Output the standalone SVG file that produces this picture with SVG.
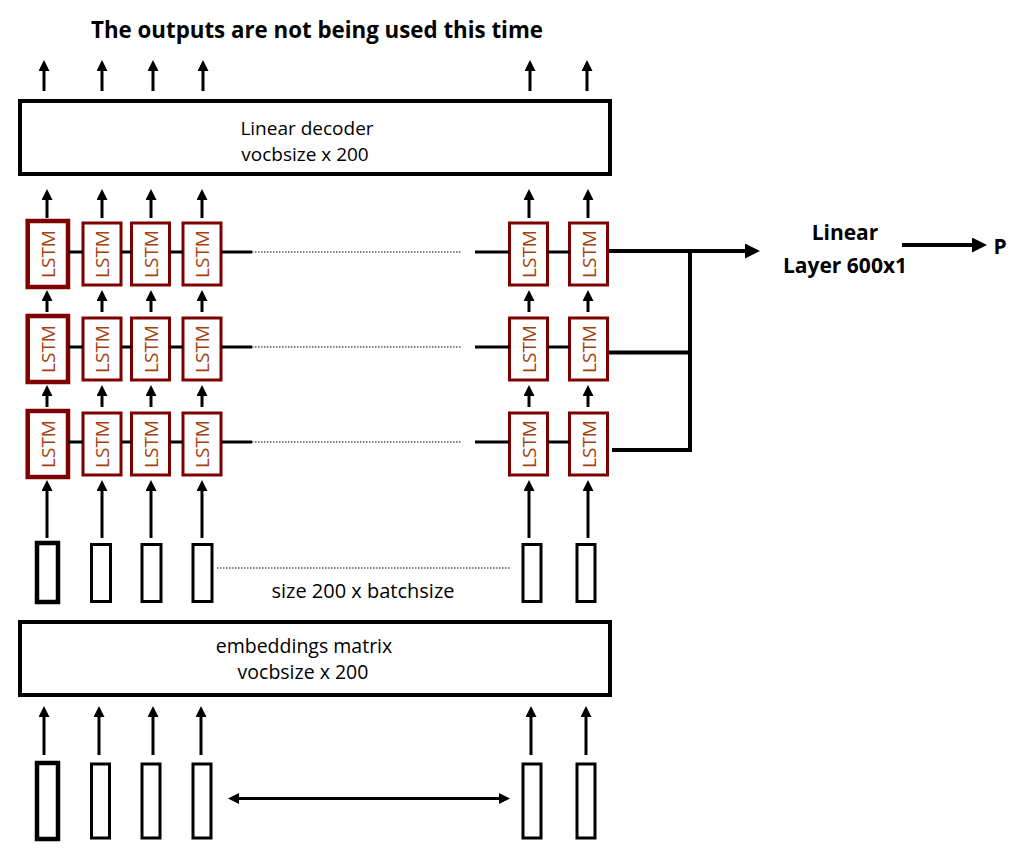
<svg xmlns="http://www.w3.org/2000/svg" width="1030" height="852" viewBox="0 0 1030 852">
<style>
.lbl{font-family:"Open Sans","Liberation Sans",Arial,sans-serif;fill:#000;text-anchor:middle}
.b{font-weight:bold}
.box{fill:#fff;stroke:#000;stroke-width:4}
.vec{fill:#fff;stroke:#000;stroke-width:3}
.vecb{fill:#fff;stroke:#000;stroke-width:4.5}
.lstm{fill:#fff;stroke:#7F0000;stroke-width:3}
.lstmb{fill:#fff;stroke:#7F0000;stroke-width:4.5}
.lt{font-family:"Open Sans","Liberation Sans",Arial,sans-serif;font-size:19px;fill:#A5410E;text-anchor:middle;dominant-baseline:central}
.ar{stroke:#000;stroke-width:3;fill:none;marker-end:url(#ah)}
.thin{stroke:#000;stroke-width:3;fill:none}
.thick{stroke:#000;stroke-width:4;fill:none}
.dot{stroke:#555;stroke-width:1.5;stroke-dasharray:1.5 1.5;fill:none}
</style>
<defs>
<marker id="ah" markerUnits="userSpaceOnUse" markerWidth="11" markerHeight="11" viewBox="0 0 11 11" refX="0" refY="5.5" orient="auto"><path d="M0,0 L11,5.5 L0,11 z" fill="#000"/></marker>
<marker id="ahb" markerUnits="userSpaceOnUse" markerWidth="15" markerHeight="15" viewBox="0 0 15 15" refX="0" refY="7.5" orient="auto"><path d="M0,0 L15,7.5 L0,15 z" fill="#000"/></marker>
<marker id="ahd" markerUnits="userSpaceOnUse" markerWidth="11" markerHeight="11" viewBox="0 0 11 11" refX="0" refY="5.5" orient="auto-start-reverse"><path d="M0,0 L11,5.5 L0,11 z" fill="#000"/></marker>
</defs>

<text class="lbl b" x="317" y="38" font-size="22.3">The outputs are not being used this time</text>

<g id="decoder">
<rect class="box" x="20" y="101" width="590" height="73"/>
<text class="lbl" x="307" y="135" font-size="19">Linear decoder</text>
<text class="lbl" x="305" y="161" font-size="19">vocbsize x 200</text>
</g>

<g id="lstm-row1">
<rect class="lstmb" x="27.7" y="221" width="40.3" height="66"/><text class="lt" transform="translate(48,254) rotate(-90)">LSTM</text>
<rect class="lstm" x="83" y="223" width="38" height="62"/><text class="lt" transform="translate(102,254) rotate(-90)">LSTM</text>
<rect class="lstm" x="131.5" y="223" width="38" height="62"/><text class="lt" transform="translate(150.5,254) rotate(-90)">LSTM</text>
<rect class="lstm" x="183" y="223" width="38" height="62"/><text class="lt" transform="translate(202,254) rotate(-90)">LSTM</text>
<rect class="lstm" x="509.5" y="223" width="38" height="62"/><text class="lt" transform="translate(528.5,254) rotate(-90)">LSTM</text>
<rect class="lstm" x="569.5" y="223" width="38" height="62"/><text class="lt" transform="translate(588.5,254) rotate(-90)">LSTM</text>
</g>
<g id="lstm-row2">
<rect class="lstmb" x="27.7" y="316" width="40.3" height="66"/><text class="lt" transform="translate(48,349) rotate(-90)">LSTM</text>
<rect class="lstm" x="83" y="318" width="38" height="62"/><text class="lt" transform="translate(102,349) rotate(-90)">LSTM</text>
<rect class="lstm" x="131.5" y="318" width="38" height="62"/><text class="lt" transform="translate(150.5,349) rotate(-90)">LSTM</text>
<rect class="lstm" x="183" y="318" width="38" height="62"/><text class="lt" transform="translate(202,349) rotate(-90)">LSTM</text>
<rect class="lstm" x="509.5" y="318" width="38" height="62"/><text class="lt" transform="translate(528.5,349) rotate(-90)">LSTM</text>
<rect class="lstm" x="569.5" y="318" width="38" height="62"/><text class="lt" transform="translate(588.5,349) rotate(-90)">LSTM</text>
</g>
<g id="lstm-row3">
<rect class="lstmb" x="27.7" y="411" width="40.3" height="66"/><text class="lt" transform="translate(48,444) rotate(-90)">LSTM</text>
<rect class="lstm" x="83" y="413" width="38" height="62"/><text class="lt" transform="translate(102,444) rotate(-90)">LSTM</text>
<rect class="lstm" x="131.5" y="413" width="38" height="62"/><text class="lt" transform="translate(150.5,444) rotate(-90)">LSTM</text>
<rect class="lstm" x="183" y="413" width="38" height="62"/><text class="lt" transform="translate(202,444) rotate(-90)">LSTM</text>
<rect class="lstm" x="509.5" y="413" width="38" height="62"/><text class="lt" transform="translate(528.5,444) rotate(-90)">LSTM</text>
<rect class="lstm" x="569.5" y="413" width="38" height="62"/><text class="lt" transform="translate(588.5,444) rotate(-90)">LSTM</text>
</g>

<g id="vectors">
<rect class="vecb" x="37" y="543" width="21" height="59"/>
<rect class="vec" x="91.5" y="544.5" width="19" height="57"/>
<rect class="vec" x="142" y="544.5" width="19" height="57"/>
<rect class="vec" x="193" y="544.5" width="19" height="57"/>
<rect class="vec" x="523" y="544.5" width="18" height="57"/>
<rect class="vec" x="577" y="544.5" width="18" height="57"/>
<text class="lbl" x="363" y="598" font-size="20">size 200 x batchsize</text>
</g>

<g id="embeddings">
<rect class="box" x="20" y="622" width="590" height="73"/>
<text class="lbl" x="304" y="653" font-size="19.5">embeddings matrix</text>
<text class="lbl" x="303" y="679" font-size="19.5">vocbsize x 200</text>
</g>

<g id="inputs">
<rect class="vecb" x="37" y="763" width="21" height="76"/>
<rect class="vec" x="91.5" y="764" width="18" height="74"/>
<rect class="vec" x="142" y="764" width="18" height="74"/>
<rect class="vec" x="193" y="764" width="18" height="74"/>
<rect class="vec" x="523" y="764" width="18" height="74"/>
<rect class="vec" x="577" y="764" width="18" height="74"/>
</g>

<g id="linear-layer">
<text class="lbl b" x="845" y="240" font-size="21">Linear</text>
<text class="lbl b" x="845" y="273" font-size="21">Layer 600x1</text>
</g>
<g id="output-p">
<text class="lbl b" x="1000" y="254" font-size="21">P</text>
</g>

<g id="connectors">
<!-- top outputs -->
<line class="ar" x1="44" y1="91" x2="44" y2="71"/>
<line class="ar" x1="102" y1="91" x2="102" y2="71"/>
<line class="ar" x1="153" y1="91" x2="153" y2="71"/>
<line class="ar" x1="203" y1="91" x2="203" y2="71"/>
<line class="ar" x1="530" y1="91" x2="530" y2="71"/>
<line class="ar" x1="587" y1="91" x2="587" y2="71"/>
<!-- lstm row1 to decoder -->
<line class="ar" x1="47" y1="218" x2="47" y2="200"/>
<line class="ar" x1="102" y1="218" x2="102" y2="200"/>
<line class="ar" x1="151" y1="218" x2="151" y2="200"/>
<line class="ar" x1="202" y1="218" x2="202" y2="200"/>
<line class="ar" x1="529" y1="218" x2="529" y2="200"/>
<line class="ar" x1="588" y1="218" x2="588" y2="200"/>
<!-- row2 to row1 -->
<line class="ar" x1="47" y1="312" x2="47" y2="301"/>
<line class="ar" x1="102" y1="312" x2="102" y2="301"/>
<line class="ar" x1="151" y1="312" x2="151" y2="301"/>
<line class="ar" x1="202" y1="312" x2="202" y2="301"/>
<line class="ar" x1="529" y1="312" x2="529" y2="301"/>
<line class="ar" x1="588" y1="312" x2="588" y2="301"/>
<!-- row3 to row2 -->
<line class="ar" x1="47" y1="407" x2="47" y2="396"/>
<line class="ar" x1="102" y1="407" x2="102" y2="396"/>
<line class="ar" x1="151" y1="407" x2="151" y2="396"/>
<line class="ar" x1="202" y1="407" x2="202" y2="396"/>
<line class="ar" x1="529" y1="407" x2="529" y2="396"/>
<line class="ar" x1="588" y1="407" x2="588" y2="396"/>
<!-- vectors to row3 -->
<line class="ar" x1="47" y1="538" x2="47" y2="491"/>
<line class="ar" x1="102" y1="538" x2="102" y2="491"/>
<line class="ar" x1="151" y1="538" x2="151" y2="491"/>
<line class="ar" x1="202" y1="538" x2="202" y2="491"/>
<line class="ar" x1="529" y1="538" x2="529" y2="491"/>
<line class="ar" x1="588" y1="538" x2="588" y2="491"/>
<!-- inputs to embeddings -->
<line class="ar" x1="44" y1="755" x2="44" y2="717"/>
<line class="ar" x1="99" y1="755" x2="99" y2="717"/>
<line class="ar" x1="153" y1="755" x2="153" y2="717"/>
<line class="ar" x1="201" y1="755" x2="201" y2="717"/>
<line class="ar" x1="531" y1="755" x2="531" y2="717"/>
<line class="ar" x1="586" y1="755" x2="586" y2="717"/>
<!-- recurrent horizontal links -->
<path class="thin" d="M68,252H83M121,252H131.5M169.5,252H183M221,252H252M475,252H509.5M547.5,252H569.5"/>
<path class="thin" d="M68,347H83M121,347H131.5M169.5,347H183M221,347H252M475,347H509.5M547.5,347H569.5"/>
<path class="thin" d="M68,442H83M121,442H131.5M169.5,442H183M221,442H252M475,442H509.5M547.5,442H569.5"/>
<path class="dot" d="M252,252H462M252,347H462M252,442H462M217,568H510"/>
<!-- outputs to linear layer -->
<line class="thick" x1="609" y1="251" x2="745" y2="251" marker-end="url(#ahb)"/>
<path class="thick" d="M609,352.5H690M612,450H690M690,249V452"/>
<line class="thick" x1="902" y1="245" x2="972" y2="245" marker-end="url(#ahb)"/>
<!-- double arrow -->
<line class="thin" x1="239" y1="798.5" x2="499" y2="798.5" marker-start="url(#ahd)" marker-end="url(#ahd)"/>
</g>
</svg>
